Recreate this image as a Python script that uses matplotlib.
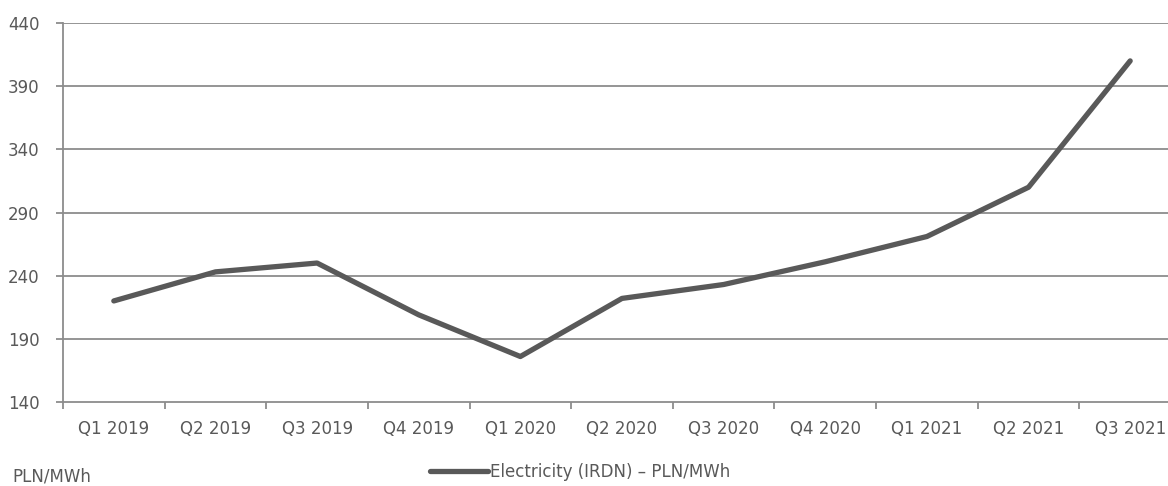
import matplotlib
matplotlib.use("Agg")
import matplotlib.pyplot as plt
from matplotlib.lines import Line2D

quarters = ["Q1 2019", "Q2 2019", "Q3 2019", "Q4 2019", "Q1 2020", "Q2 2020",
            "Q3 2020", "Q4 2020", "Q1 2021", "Q2 2021", "Q3 2021"]
prices = [220, 243, 250, 209, 176, 222, 233, 251, 271, 310, 410]
y_ticks = [140, 190, 240, 290, 340, 390, 440]

series_name = "Electricity (IRDN) \u2013 PLN/MWh"
unit_label = "PLN/MWh"

text_col = "#595959"
grid_col = "#8c8c8c"
line_col = "#595959"

plt.rcParams["font.family"] = ["DejaVu Sans"]
fs = 12

fig = plt.figure(figsize=(11.68, 4.86), dpi=100)
ax = fig.add_axes([63 / 1168, 1 - 402 / 486, 1118 / 1168, 379 / 486])

x = list(range(len(quarters)))
ax.plot(x, prices, color=line_col, lw=3.8, solid_capstyle="round",
        solid_joinstyle="round", zorder=3)

ax.set_xlim(-0.5, len(quarters) - 0.5)
ax.set_ylim(140, 440)
ax.set_yticks(y_ticks)
ax.set_yticklabels([str(v) for v in y_ticks])
for v in y_ticks[1:]:
    ax.axhline(v, color=grid_col, lw=1.3, zorder=1)

ax.set_xticks(x)
ax.set_xticklabels(quarters)
ax.set_xticks([i - 0.5 for i in range(len(quarters) + 1)], minor=True)
ax.tick_params(axis="x", which="major", length=0, pad=13, labelsize=fs,
               labelcolor=text_col)
ax.tick_params(axis="x", which="minor", length=5, width=1.3, color=grid_col)
ax.tick_params(axis="y", length=5, width=1.3, color=grid_col, pad=12,
               labelsize=fs, labelcolor=text_col)

for s in ["top", "right"]:
    ax.spines[s].set_visible(False)
for s in ["left", "bottom"]:
    ax.spines[s].set_color(grid_col)
    ax.spines[s].set_linewidth(1.3)

handle = Line2D([], [], color=line_col, lw=3.8, solid_capstyle="round")
fig.legend([handle], [series_name], loc="center left",
           bbox_to_anchor=(430 / 1168, 1 - 472 / 486), frameon=False,
           fontsize=fs, labelcolor=text_col, handlelength=3.5,
           handletextpad=0.1, borderaxespad=0, borderpad=0)

fig.text(12 / 1168, 1 - 481 / 486, unit_label, fontsize=fs, color=text_col,
         ha="left", va="baseline")

fig.savefig("out.png", dpi=100)
